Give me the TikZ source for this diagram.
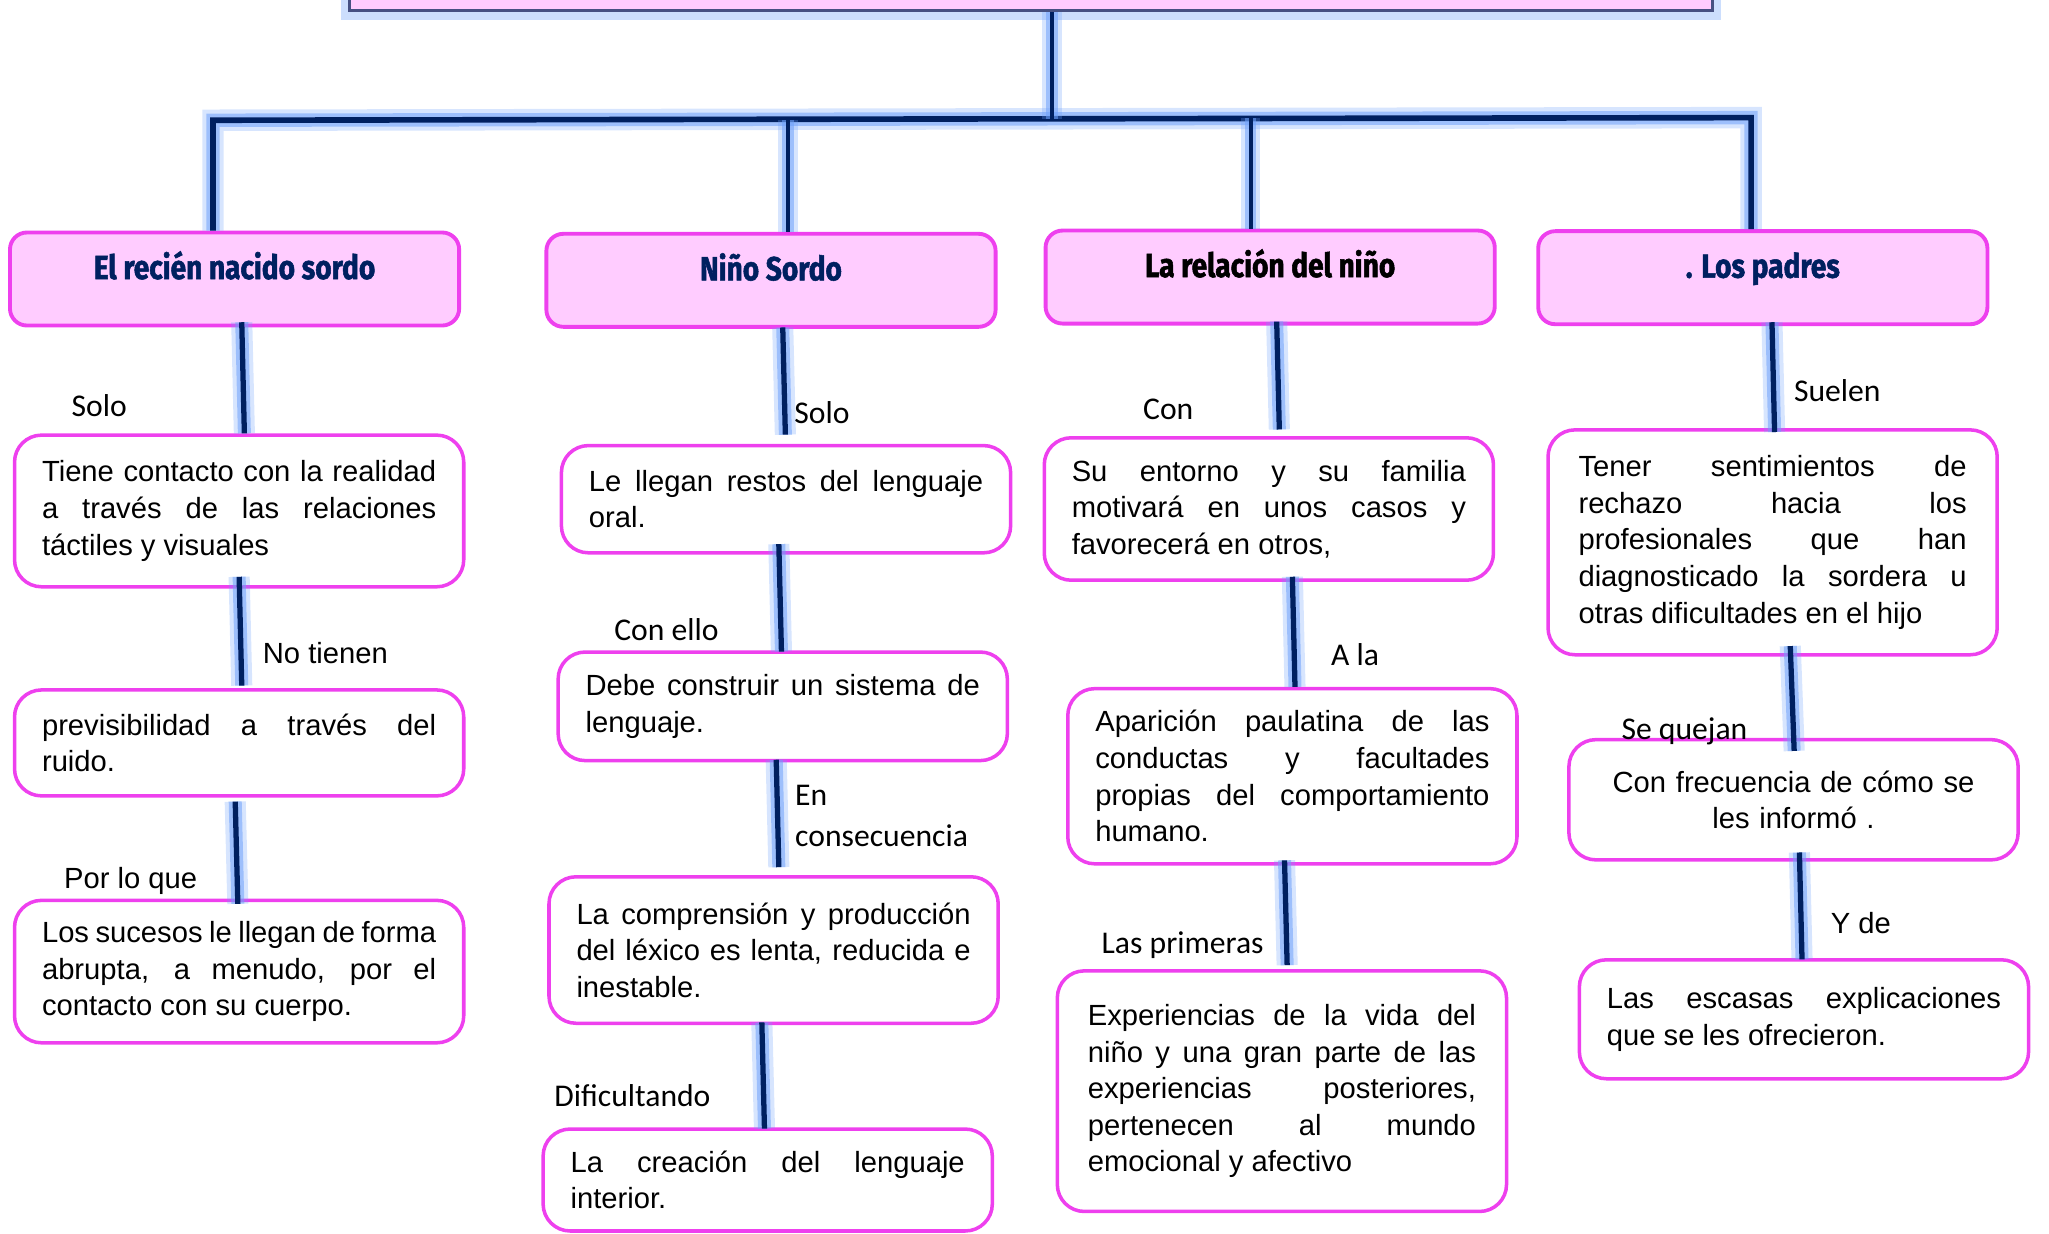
\documentclass[tikz,border=0pt]{standalone}
\usepackage{fontspec}
\setmainfont{Liberation Sans}
\newfontfamily\labelfont{Carlito}
\newfontfamily\headfont[FakeStretch=0.84,FakeBold=1.6]{Fira Sans}
\definecolor{navy}{RGB}{0,32,96}
\definecolor{halo}{RGB}{110,160,250}
\definecolor{rose}{RGB}{255,204,255}
\definecolor{magent}{RGB}{238,64,238}
\definecolor{slate}{RGB}{70,80,130}
\tikzset{
  glow/.style={preaction={draw=halo,line width=#1+4.5pt,draw opacity=0.28},
    preaction={draw=halo,line width=#1+2.2pt,draw opacity=0.55}},
  link/.style={draw=navy,line width=1.5pt,glow=1.5pt},
  branch/.style={draw=navy,line width=1.1pt,glow=1.1pt},
  bar/.style={draw=navy,line width=1.6pt,glow=1.6pt},
  headbox/.style={draw=magent,fill=rose,line width=1.1pt,rounded corners=0.17cm,
    minimum width=4.49cm,minimum height=0.93cm,inner sep=1pt,
    text height=0.26cm,text depth=0.26cm,text=navy,
    font=\headfont\bfseries\fontsize{9.5}{11}\selectfont},
  txtbox/.style={draw=magent,fill=white,line width=1pt,rounded corners=0.27cm,
    minimum width=4.49cm,inner sep=2pt,text width=3.94cm,align=justify,
    font=\fontsize{8.3}{10.4}\selectfont},
  tag/.style={anchor=base,inner sep=0pt,font=\labelfont\fontsize{9}{11}\selectfont},
  tagA/.style={anchor=base,inner sep=0pt,font=\fontsize{8.3}{10}\selectfont}
}
\begin{document}
\begin{tikzpicture}[x=0.013068cm,y=-0.013068cm]
\clip (0,0) rectangle (1568,944);
\node[draw=slate,fill=rose,line width=0.8pt,minimum width=13.62cm,minimum height=0.74cm,
  inner sep=0pt,preaction={draw=halo,line width=5pt,draw opacity=0.35}] (top) at (789,-20) {};

% encabezados
\node[headbox] (h1) at (179.5,213.5) {El recién nacido sordo};
\node[headbox] (h2) at (590,214.5) {Niño Sordo};
\node[headbox,text=black] (h3) at (972,212) {La relación del niño};
\node[headbox] (h4) at (1349,212.5) {. Los padres};

\coordinate (hub) at (805,91);
\coordinate (j1) at (163,92);
\coordinate (j2) at (603,91.5);
\coordinate (j3) at (957,90.5);
\coordinate (j4) at (1340,90);

\draw[bar,line join=miter] (j1 |- h1.north) -- (j1) -- (j4) -- (j4 |- h4.north);
\draw[branch] ([shift={(16,0)}]top.south) -- (hub);
\draw[branch] (j2) -- (j2 |- h2.north);
\draw[branch] (j3) -- (j3 |- h3.north);

% columna 1
\node[txtbox,minimum height=1.516cm] (a1) at (183,391) {Tiene contacto con la realidad\linebreak a través de las relaciones\linebreak táctiles y visuales};
\node[txtbox,minimum height=1.059cm] (a2) at (183,568.5) {previsibilidad a través del\linebreak ruido.};
\node[txtbox,minimum height=1.424cm] (a3) at (183,743.5) {Los sucesos le llegan de forma\linebreak abrupta, a menudo, por el\linebreak contacto con su cuerpo.};

% columna 2
\node[txtbox,minimum height=1.072cm] (b1) at (601.5,382) {Le llegan restos del lenguaje\linebreak oral.};
\node[txtbox,minimum height=1.085cm] (b2) at (599,540.5) {Debe construir un sistema de\linebreak lenguaje.};
\node[txtbox,minimum height=1.464cm] (b3) at (592,727) {La comprensión y producción\linebreak del léxico es lenta, reducida e\linebreak inestable.};
\node[txtbox,minimum height=1.019cm] (b4) at (587.5,903) {La creación del lenguaje\linebreak interior.};

% columna 3
\node[txtbox,minimum height=1.424cm] (c1) at (971,389.5) {Su entorno y su familia\linebreak motivará en unos casos y\linebreak favorecerá en otros,};
\node[txtbox,minimum height=1.751cm] (c2) at (989,594) {Aparición paulatina de las\linebreak conductas y facultades\linebreak propias del comportamiento\linebreak humano.};
\node[txtbox,minimum height=2.405cm,text width=3.88cm] (c3) at (981,835) {Experiencias de la vida del\linebreak niño y una gran parte de las\linebreak experiencias posteriores,\linebreak pertenecen al mundo\linebreak emocional y afectivo};

% columna 4
\node[txtbox,minimum height=2.248cm,text width=3.88cm] (d1) at (1356.5,415) {Tener sentimientos de\linebreak rechazo hacia los\linebreak profesionales que han\linebreak diagnosticado la sordera u\linebreak otras dificultades en el hijo};
\node[txtbox,minimum height=1.202cm,align=center] (d2) at (1372.5,612) {Con frecuencia de cómo se\\les informó .};
\node[txtbox,minimum height=1.189cm] (d3) at (1380.5,780) {Las escasas explicaciones\linebreak que se les ofrecieron.};

\draw[link] ([shift={(5.5,-4)}]h1.south) -- ([shift={(4,0)}]a1.north);
\draw[link] ([shift={(0,-9)}]a1.south) -- ([shift={(2,-2)}]a2.north);
\draw[link] ([shift={(-3,3)}]a2.south) -- ([shift={(-1,4)}]a3.north);
\draw[link] ([shift={(9,-1)}]h2.south) -- ([shift={(-0.5,-7)}]b1.north);
\draw[link] ([shift={(-5.5,-8)}]b1.south) -- ([shift={(-1,1)}]b2.north);
\draw[link] ([shift={(-5,-2)}]b2.south) -- ([shift={(4,-6)}]b3.north);
\draw[link] ([shift={(-9,-2)}]b3.south) -- ([shift={(-2.5,1)}]b4.north);
\draw[link] ([shift={(5,-3)}]h3.south) -- ([shift={(8,-5)}]c1.north);
\draw[link] ([shift={(18,-4)}]c1.south) -- ([shift={(2,0)}]c2.north);
\draw[link] ([shift={(-6,-4)}]c2.south) -- ([shift={(4,-3)}]c3.north);
\draw[link] ([shift={(7,-3)}]h4.south) -- ([shift={(1.5,3)}]d1.north);
\draw[link] ([shift={(13.5,-8)}]d1.south) -- ([shift={(0.5,10)}]d2.north);
\draw[link] ([shift={(4.5,-7)}]d2.south) -- ([shift={(-1.5,1)}]d3.north);

% etiquetas
\node[tag] (l1) at (76,319) {Solo};
\node[tagA] (l2) at (249,508) {No tienen};
\node[tagA] (l3) at (100,680) {Por lo que};
\node[tag] (l4) at (629,324) {Solo};
\node[tag] (l5) at (510,490) {Con ello};
\node[tag,anchor=north west,align=left,font=\labelfont\fontsize{9}{11.9}\selectfont] (l6) at (608,600) {En\\consecuencia};
\node[tag] (l7) at (484,847) {Dificultando};
\node[tag] (l8) at (894,321) {Con};
\node[tag] (l9) at (1037,509) {A la};
\node[tag] (l10) at (905,730) {Las primeras};
\node[tag] (l11) at (1406,307) {Suelen};
\node[tag] (l12) at (1289,566) {Se quejan};
\node[tagA] (l13) at (1424,714) {Y de};
\end{tikzpicture}
\end{document}
